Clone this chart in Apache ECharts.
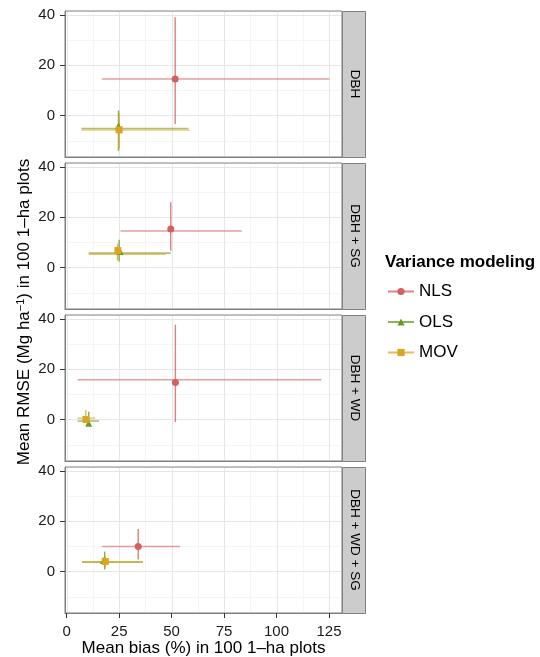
<!DOCTYPE html>
<html><head><meta charset="utf-8">
<script src="https://cdn.jsdelivr.net/npm/echarts@6/dist/echarts.min.js"></script>
<style>html,body{margin:0;padding:0;background:#fff}#c{width:540px;height:657px}</style>
</head><body><div id="c"></div>
<script>
// ---- data ----
const panels = ['DBH', 'DBH + SG', 'DBH + WD', 'DBH + WD + SG'];
const models = ['NLS', 'OLS', 'MOV'];
const xTicks = [0, 25, 50, 75, 100, 125];
const yTicks = [0, 20, 40];
const xMinor = [12.5, 37.5, 62.5, 87.5, 112.5];
const yMinor = [-10, 10, 30];

// NLS (one value per panel)
const nlsBias   = [51.7, 49.6, 51.8, 34.1];
const nlsRmse   = [14.5, 15.3, 14.7, 9.9];
const nlsBiasLo = [16.8, 25.7, 5.2, 16.8];
const nlsBiasHi = [125.2, 83.4, 121.4, 54.0];
const nlsBarY   = [14.5, 14.5, 15.8, 9.9];
const nlsRmseLo = [-3.4, 6.6, -1.0, 4.8];
const nlsRmseHi = [39.0, 25.9, 37.6, 16.9];
const nlsBarX   = [51.7, 49.6, 51.8, 34.1];
// OLS
const olsBias   = [24.7, 25.5, 10.5, 17.6];
const olsRmse   = [-4.2, 6.3, -1.5, 4.4];
const olsBiasLo = [7.0, 10.5, 5.2, 7.3];
const olsBiasHi = [58.0, 49.6, 15.5, 36.3];
const olsBarY   = [-5.2, 5.7, -0.6, 3.7];
const olsRmseLo = [-14.0, 2.4, -2.1, 0.8];
const olsRmseHi = [2.0, 11.0, 3.1, 7.9];
const olsBarX   = [24.7, 25.0, 10.5, 18.1];
// MOV
const movBias   = [25.0, 24.4, 9.2, 18.4];
const movRmse   = [-5.7, 6.7, 0.0, 4.0];
const movBiasLo = [7.0, 10.5, 5.2, 7.3];
const movBiasHi = [58.6, 47.2, 13.6, 36.3];
const movBarY   = [-5.8, 5.3, 0.5, 3.8];
const movRmseLo = [-13.0, 2.8, -1.0, 1.5];
const movRmseHi = [1.0, 9.5, 3.8, 6.0];
const movBarX   = [25.0, 24.2, 9.1, 18.4];

// ---- styling / layout ----
const colors = { NLS: '#D35F5F', OLS: '#6A9A1F', MOV: '#DAA520' };
const symbols = { NLS: 'circle', OLS: 'triangle', MOV: 'rect' };
const modelData = {
  NLS: [nlsBias, nlsRmse, nlsBiasLo, nlsBiasHi, nlsBarY, nlsRmseLo, nlsRmseHi, nlsBarX],
  OLS: [olsBias, olsRmse, olsBiasLo, olsBiasHi, olsBarY, olsRmseLo, olsRmseHi, olsBarX],
  MOV: [movBias, movRmse, movBiasLo, movBiasHi, movBarY, movRmseLo, movRmseHi, movBarX]
};
const gridTops = [11, 163, 315, 467];
const gridLeft = 65, gridW = 277, gridH = 146;
const stripW = 23;
const txt = '#1A1A1A';
const font = 'Liberation Sans, Arial, sans-serif';

const grids = [], xAxes = [], yAxes = [], series = [], graphics = [];

// legend dummy series (line + symbol icons)
models.forEach(m => {
  series.push({
    type: 'line', name: m, data: [], xAxisIndex: 0, yAxisIndex: 0,
    symbol: symbols[m], symbolSize: 7,
    lineStyle: { color: colors[m], width: 1.6, opacity: 0.75 },
    itemStyle: { color: colors[m] }
  });
});

panels.forEach((p, i) => {
  const last = i === panels.length - 1;
  grids.push({ left: gridLeft, top: gridTops[i], width: gridW, height: gridH,
    containLabel: false, outerBoundsMode: 'none',
    show: true, backgroundColor: '#fff', borderColor: '#7F7F7F', borderWidth: 1 });
  xAxes.push({
    type: 'value', gridIndex: i, min: -0.8, max: 131.2, position: 'bottom',
    axisLine: { show: true, onZero: false, lineStyle: { color: '#7F7F7F', width: 1 } },
    axisTick: { show: last, customValues: xTicks, length: 5, lineStyle: { color: '#333', width: 1 } },
    axisLabel: { show: last, customValues: xTicks, fontSize: 15, color: txt, fontFamily: font, margin: 11 },
    splitLine: { show: false },
    name: last ? 'Mean bias (%) in 100 1\u2013ha plots' : '',
    nameLocation: 'middle', nameGap: 25,
    nameTextStyle: { fontSize: 17, color: '#000', fontFamily: font }
  });
  yAxes.push({
    type: 'value', gridIndex: i, min: -16.5, max: 41.5, position: 'left',
    axisLine: { show: true, onZero: false, lineStyle: { color: '#7F7F7F', width: 1 } },
    axisTick: { show: true, customValues: yTicks, length: 5, lineStyle: { color: '#333', width: 1 } },
    axisLabel: { customValues: yTicks, fontSize: 15, color: txt, fontFamily: font, margin: 10 },
    splitLine: { show: false }
  });

  // gridlines: [value, direction(0=x,1=y), major]
  const gl = [];
  xMinor.forEach(v => gl.push([v, 0, 0]));
  yMinor.forEach(v => gl.push([v, 1, 0]));
  xTicks.forEach(v => gl.push([v, 0, 1]));
  yTicks.forEach(v => gl.push([v, 1, 1]));
  series.push({
    type: 'custom', xAxisIndex: i, yAxisIndex: i, silent: true, z: 1,
    data: gl,
    renderItem(params, api) {
      const cs = params.coordSys;
      const v = api.value(0), dir = api.value(1), major = api.value(2);
      let shape;
      if (dir === 0) {
        const x = Math.round(api.coord([v, 0])[0]) + 0.5;
        shape = { x1: x, y1: cs.y + 1, x2: x, y2: cs.y + cs.height - 1 };
      } else {
        const y = Math.round(api.coord([0, v])[1]) + 0.5;
        shape = { x1: cs.x + 1, y1: y, x2: cs.x + cs.width - 1, y2: y };
      }
      return { type: 'line', shape, style: { stroke: major ? '#E6E6E6' : '#F5F5F5', lineWidth: 1 } };
    }
  });

  models.forEach(m => {
    const d = modelData[m];
    // error bars: [barX, barY, biasLo, biasHi, rmseLo, rmseHi]
    series.push({
      type: 'custom', name: m, xAxisIndex: i, yAxisIndex: i, z: 2,
      data: [[d[7][i], d[4][i], d[2][i], d[3][i], d[5][i], d[6][i]]],
      renderItem(params, api) {
        const h1 = api.coord([api.value(2), api.value(1)]);
        const h2 = api.coord([api.value(3), api.value(1)]);
        const v1 = api.coord([api.value(0), api.value(4)]);
        const v2 = api.coord([api.value(0), api.value(5)]);
        return { type: 'group', children: [
          { type: 'line', shape: { x1: h1[0], y1: h1[1], x2: h2[0], y2: h2[1] },
            style: { stroke: colors[m], lineWidth: 1.6, opacity: 0.6 } },
          { type: 'line', shape: { x1: v1[0], y1: v1[1], x2: v2[0], y2: v2[1] },
            style: { stroke: colors[m], lineWidth: 1.4, opacity: 0.8 } }
        ]};
      }
    });
    series.push({
      type: 'scatter', name: m, xAxisIndex: i, yAxisIndex: i, z: 3,
      symbol: symbols[m], symbolSize: 7,
      itemStyle: { color: colors[m], opacity: 1 },
      data: [[d[0][i], d[1][i]]]
    });
  });

  // facet strip
  graphics.push({ type: 'rect', shape: { x: gridLeft + gridW + 0.5, y: gridTops[i] + 0.5, width: stripW, height: gridH },
    style: { fill: '#CCCCCC', stroke: '#7F7F7F', lineWidth: 1 } });
  graphics.push({ type: 'text', x: gridLeft + gridW + stripW / 2 + 1, y: gridTops[i] + gridH / 2,
    rotation: -Math.PI / 2,
    style: { text: p, fontSize: 13.5, fill: '#000', fontFamily: font, align: 'center', verticalAlign: 'middle' } });
});

// y axis title
graphics.push({ type: 'text', x: 24, y: 312, rotation: Math.PI / 2,
  style: { text: 'Mean RMSE (Mg ha{sup|\u22121}) in 100 1\u2013ha plots',
    rich: { sup: { fontSize: 11, verticalAlign: 'top', lineHeight: 11, fill: '#000', fontFamily: font } },
    fontSize: 17, lineHeight: 18, fill: '#000', fontFamily: font, align: 'center', verticalAlign: 'middle' } });
// legend title
graphics.push({ type: 'text', x: 385, y: 262,
  style: { text: 'Variance modeling', fontSize: 17, fontWeight: 'bold', fill: '#000', fontFamily: font,
    align: 'left', verticalAlign: 'middle' } });

const chart = echarts.init(document.getElementById('c'), null, { renderer: 'canvas' });
chart.setOption({
  animation: false,
  backgroundColor: '#fff',
  grid: grids, xAxis: xAxes, yAxis: yAxes,
  legend: {
    data: models, orient: 'vertical', left: 387, top: 283, padding: 0,
    itemWidth: 26, itemHeight: 9, itemGap: 13.5, selectedMode: false,
    textStyle: { fontSize: 17, color: '#000', fontFamily: font }
  },
  graphic: graphics,
  series
});
</script></body></html>
